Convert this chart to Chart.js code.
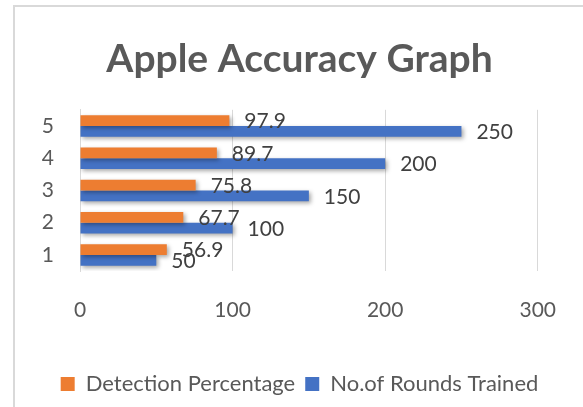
<!DOCTYPE html>
<html>
<head>
<meta charset="utf-8">
<script src="https://cdn.jsdelivr.net/npm/chart.js@4"></script>
<style>
    body { margin: 0; background: #fff; }
    #frame {
        position: absolute; left: 13px; top: 5px; width: 600px; height: 430px;
        border: 2px solid #d9d9d9; box-sizing: border-box;
    }
    #wrap { position: absolute; left: 0; top: 0; width: 583px; height: 407px; }
</style>
</head>
<body>
<div id="frame"></div>
<div id="wrap"><canvas id="accChart" width="583" height="407"></canvas></div>
<script>
const rounds = ['5', '4', '3', '2', '1'];
const detectionPercentage = [97.9, 89.7, 75.8, 67.7, 56.9];
const roundsTrained = [250, 200, 150, 100, 50];
const xTicks = [0, 100, 200, 300];

const FONT = 'Lato, "Open Sans", sans-serif';

// excel style drop shadow under bars, then the value labels
const barDecor = {
    id: 'barDecor',
    beforeDatasetsDraw(chart) {
        const ctx = chart.ctx;
        ctx.save();
        ctx.shadowColor = 'rgba(0, 0, 0, 0.35)';
        ctx.shadowBlur = 4;
        ctx.shadowOffsetX = 2;
        ctx.shadowOffsetY = 2;
    },
    afterDatasetsDraw(chart) {
        const ctx = chart.ctx;
        ctx.restore();
        ctx.save();
        ctx.font = '21px ' + FONT;
        ctx.fillStyle = '#404040';
        ctx.textAlign = 'left';
        ctx.textBaseline = 'middle';
        chart.data.datasets.forEach((ds, i) => {
            chart.getDatasetMeta(i).data.forEach((bar, j) => {
                ctx.fillText(String(ds.data[j]), bar.x + 15, bar.y + 1);
            });
        });
        ctx.restore();
    }
};

new Chart(document.getElementById('accChart'), {
    type: 'bar',
    data: {
        labels: rounds,
        datasets: [
            {
                label: 'Detection Percentage',
                data: detectionPercentage,
                backgroundColor: '#ED7D31',
                yAxisID: 'y'
            },
            {
                label: 'No.of Rounds Trained',
                data: roundsTrained,
                backgroundColor: '#4472C4',
                yAxisID: 'y'
            }
        ]
    },
    options: {
        indexAxis: 'y',
        responsive: false,
        animation: false,
        layout: { padding: { left: 16, right: 0, top: 0, bottom: 2 } },
        datasets: {
            bar: { categoryPercentage: 0.667, barPercentage: 1.0 }
        },
        scales: {
            x: {
                min: 0,
                max: 300,
                afterBuildTicks: scale => { scale.ticks = xTicks.map(v => ({ value: v })); },
                afterFit: scale => { scale.height = 92; },
                grid: { color: '#d9d9d9', lineWidth: 1, drawTicks: false },
                border: { display: false },
                ticks: {
                    padding: 27,
                    color: '#595959',
                    font: { family: FONT, size: 21 }
                }
            },
            y: {
                afterFit: scale => { scale.width = 64; },
                grid: { display: false, drawTicks: false },
                border: { display: true, color: '#d9d9d9', width: 1 },
                ticks: {
                    padding: 26,
                    color: '#595959',
                    font: { family: FONT, size: 21 }
                }
            },
            yR: {
                type: 'category',
                position: 'right',
                afterFit: scale => { scale.width = 40; },
                grid: { display: false, drawTicks: false },
                border: { display: false },
                ticks: { display: false }
            }
        },
        plugins: {
            title: {
                display: true,
                text: 'Apple Accuracy Graph',
                color: '#595959',
                font: { family: FONT, size: 39, weight: 'bold' },
                padding: { top: 36, bottom: 27 }
            },
            legend: {
                position: 'bottom',
                labels: {
                    boxWidth: 14,
                    boxHeight: 14,
                    padding: 10,
                    color: '#595959',
                    font: { family: FONT, size: 22 }
                }
            },
            tooltip: { enabled: false }
        }
    },
    plugins: [barDecor]
});
</script>
</body>
</html>
